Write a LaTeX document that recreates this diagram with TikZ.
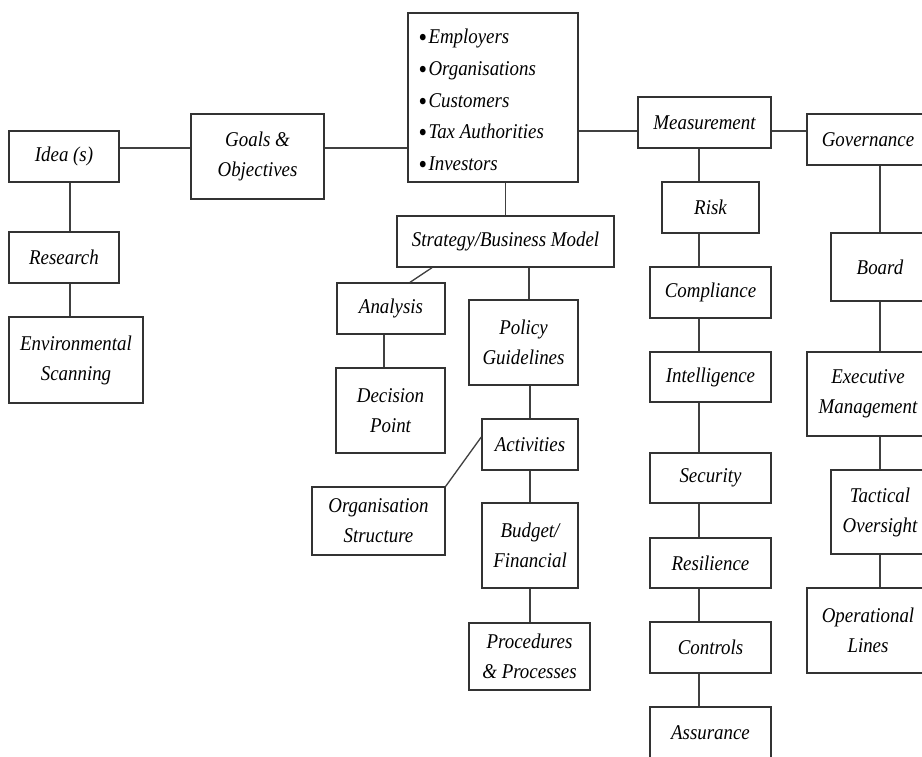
\documentclass[tikz,border=0pt]{standalone}
\usepackage{fontspec}
\setmainfont[FakeStretch=0.9]{Liberation Serif}
\newcommand{\blt}{\raisebox{-3pt}{\upshape\fontsize{27}{0}\selectfont •}\kern1.5pt}
\begin{document}
\begin{tikzpicture}[x=1pt,y=-1pt,
  box/.style={draw=black!80, line width=1.4pt, align=center,
    font=\fontsize{21}{30}\selectfont\itshape, inner sep=0pt},
  conn/.style={draw=black!75, line width=1.3pt}]
\useasboundingbox (0,0) rectangle (922,756);
\fill[white] (0,0) rectangle (922,756);
\clip (0,0) rectangle (922,756);
% left column
\node[box, minimum width=110pt, minimum height=51pt] (idea) at (64,156.5) {Idea (s)};
\node[box, minimum width=110pt, minimum height=51pt] (research) at (64,257.5) {Research};
\node[box, minimum width=134pt, minimum height=86pt] (env) at (76,360) {Environmental\\Scanning};
\node[box, minimum width=133pt, minimum height=85pt] (goals) at (257.5,156.5) {Goals \&\\Objectives};
% stakeholders
\node[box, minimum width=170pt, minimum height=169pt] (stake) at (493,97.5) {};
\node[anchor=west, align=left, inner sep=0pt, font=\fontsize{21}{31.7}\selectfont\itshape]
  (stakeText) at ([xshift=11pt,yshift=-4pt]stake.west)
  {\blt Employers\\
   \blt Organisations\\
   \blt Customers\\
   \blt Tax Authorities\\
   \blt Investors};
% strategy branch
\node[box, minimum width=217pt, minimum height=51pt] (strategy) at (505.5,241.5) {Strategy/Business Model};
\node[box, minimum width=108pt, minimum height=51pt] (analysis) at (391,308.5) {Analysis};
\node[box, minimum width=109pt, minimum height=85pt] (decision) at (390.5,410.5) {Decision\\Point};
\node[box, minimum width=109pt, minimum height=85pt] (policy) at (523.5,342.5) {Policy\\Guidelines};
\node[box, minimum width=96pt, minimum height=51pt] (activities) at (530,444.5) {Activities};
\node[box, minimum width=133pt, minimum height=68pt] (orgstruct) at (378.5,521) {Organisation\\Structure};
\node[box, minimum width=96pt, minimum height=85pt] (budget) at (530,545.5) {Budget/\\Financial};
\node[box, minimum width=121pt, minimum height=67pt] (procedures) at (529.5,656.5) {Procedures\\\& Processes};
% measurement column
\node[box, minimum width=133pt, minimum height=51pt] (measurement) at (704.5,122.5) {Measurement};
\node[box, minimum width=97pt, minimum height=51pt] (risk) at (710.5,207.5) {Risk};
\node[box, minimum width=121pt, minimum height=51pt] (compliance) at (710.5,292.5) {Compliance};
\node[box, minimum width=121pt, minimum height=50pt] (intelligence) at (710.5,377) {Intelligence};
\node[box, minimum width=121pt, minimum height=50pt] (security) at (710.5,478) {Security};
\node[box, minimum width=121pt, minimum height=50pt] (resilience) at (710.5,563) {Resilience};
\node[box, minimum width=121pt, minimum height=51pt] (controls) at (710.5,647.5) {Controls};
\node[box, minimum width=121pt, minimum height=51pt] (assurance) at (710.5,732.5) {Assurance};
% governance column
\node[box, minimum width=122pt, minimum height=51pt] (governance) at (868,139.5) {Governance};
\node[box, minimum width=98pt, minimum height=68pt] (board) at (880,267) {Board};
\node[box, minimum width=122pt, minimum height=84pt] (exec) at (868,394) {Executive\\Management};
\node[box, minimum width=98pt, minimum height=84pt] (tactical) at (880,512) {Tactical\\Oversight};
\node[box, minimum width=122pt, minimum height=85pt] (operational) at (868,630.5) {Operational\\Lines};
% connectors
\draw[conn] ([yshift=8.5pt]idea.east) -- ([yshift=8.5pt]goals.west);
\draw[conn] ([xshift=6pt]idea.south) -- ([xshift=6pt]research.north);
\draw[conn] ([xshift=6pt]research.south) -- ([xshift=-6pt]env.north);
\draw[conn] ([yshift=8.5pt]goals.east) -- ([yshift=-50.5pt]stake.west);
\draw[conn] ([yshift=-33.5pt]stake.east) -- ([yshift=-8.5pt]measurement.west);
\draw[conn] ([yshift=-8.5pt]measurement.east) -- ([yshift=8.5pt]governance.west);
\draw[conn] (strategy.north) -- (strategy.north |- stake.south);
\draw[conn] ([xshift=-73.5pt]strategy.south) -- ([xshift=19pt]analysis.north);
\draw[conn] ([xshift=5.5pt]policy.north) -- ([xshift=5.5pt]policy.north |- strategy.south);
\draw[conn] ([xshift=-7pt]analysis.south) -- ([xshift=-6.5pt]decision.north);
\draw[conn] (activities.north) -- (activities.north |- policy.south);
\draw[conn] (activities.south) -- (budget.north);
\draw[conn] (budget.south) -- (budget.south |- procedures.north);
\draw[conn] (orgstruct.north east) -- ([yshift=7.5pt]activities.west);
\draw[conn] ([xshift=-5.5pt]measurement.south) -- ([xshift=-11.5pt]risk.north);
\draw[conn] ([xshift=-11.5pt]risk.south) -- ([xshift=-11.5pt]compliance.north);
\draw[conn] ([xshift=-11.5pt]compliance.south) -- ([xshift=-11.5pt]intelligence.north);
\draw[conn] ([xshift=-11.5pt]intelligence.south) -- ([xshift=-11.5pt]security.north);
\draw[conn] ([xshift=-11.5pt]security.south) -- ([xshift=-11.5pt]resilience.north);
\draw[conn] ([xshift=-11.5pt]resilience.south) -- ([xshift=-11.5pt]controls.north);
\draw[conn] ([xshift=-11.5pt]controls.south) -- ([xshift=-11.5pt]assurance.north);
\draw[conn] ([xshift=12pt]governance.south) -- (board.north);
\draw[conn] (board.south) -- ([xshift=12pt]exec.north);
\draw[conn] ([xshift=12pt]exec.south) -- (tactical.north);
\draw[conn] (tactical.south) -- ([xshift=12pt]operational.north);
\end{tikzpicture}
\end{document}
